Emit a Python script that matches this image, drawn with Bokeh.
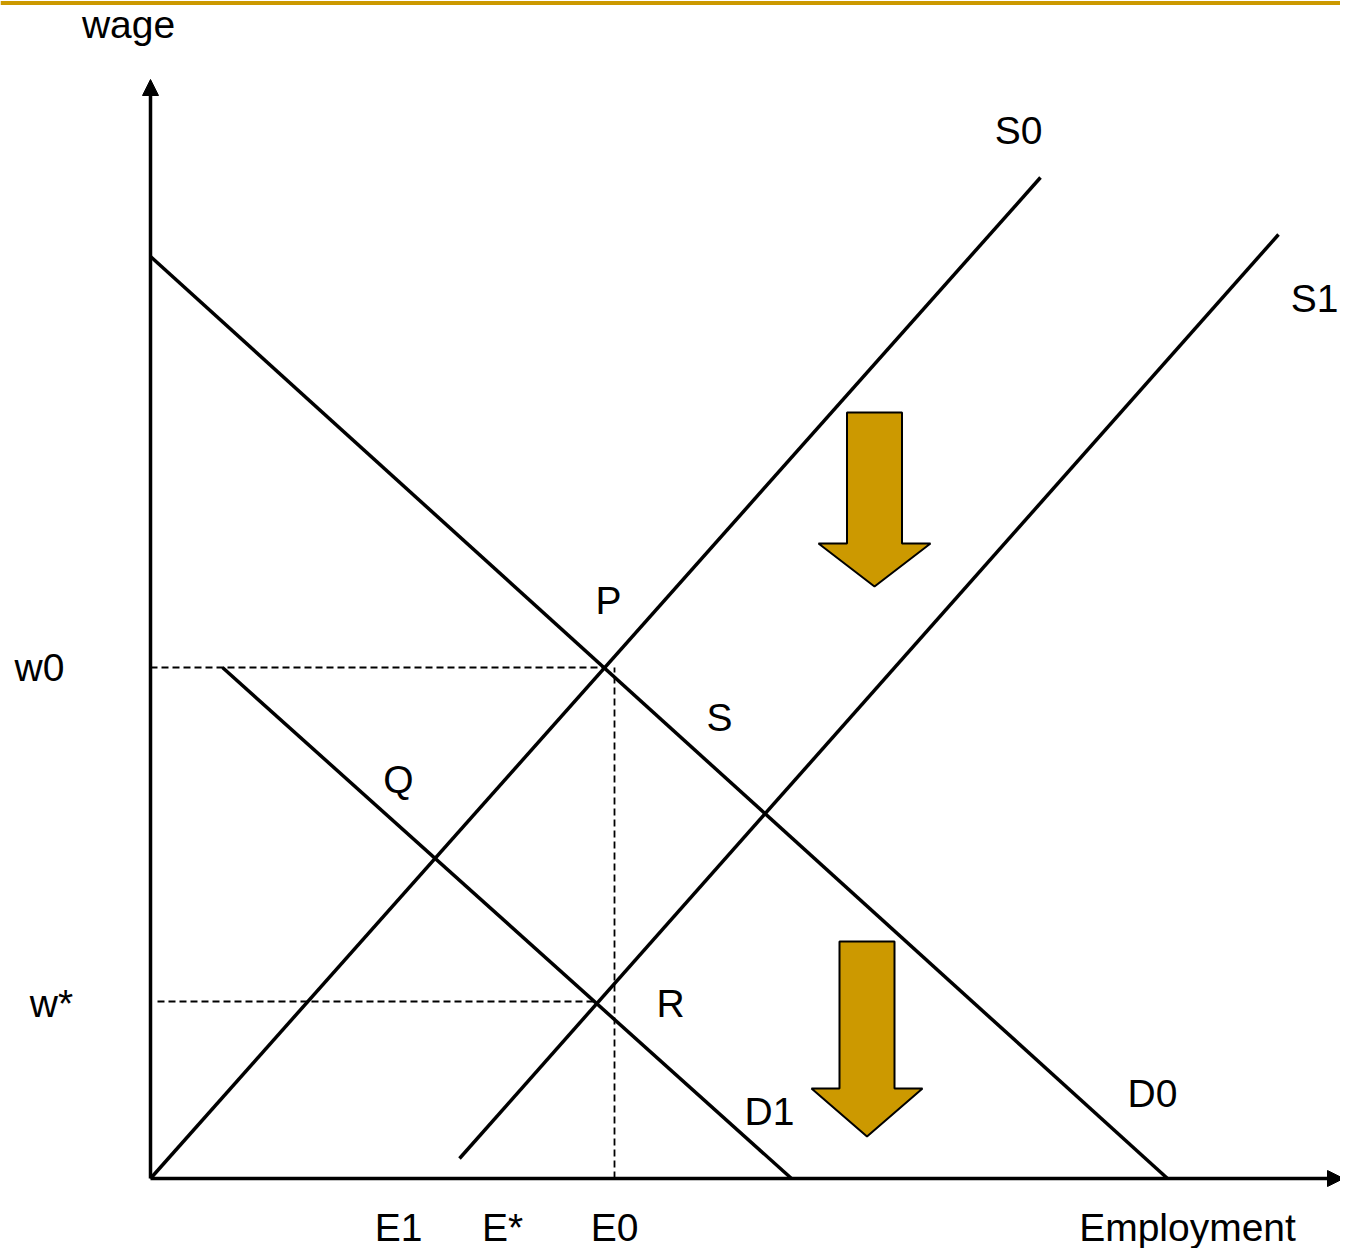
from bokeh.plotting import figure
from bokeh.models import Arrow, NormalHead, Range1d
from bokeh.core.properties import value
from bokeh.embed import file_html
from bokeh.resources import INLINE

# ---- data (units: employment / wage, origin at the axes corner) ----
d0_x = [0.0, 101.7]
d0_y = [92.2, 0.0]
d1_x = [7.2, 64.1]
d1_y = [51.1, 0.0]
s0_x = [0.0, 89.0]
s0_y = [0.0, 100.1]
s1_x = [30.9, 112.8]
s1_y = [2.0, 94.4]

w0 = 51.1
w_star = 17.7
p_x = 45.4
r_x = 44.6
e0_x = 46.4
wstar_start = 0.7

x_axis_end = 119.3
y_axis_end = 109.9

# shift arrows: centre x, top y, head-base y, tip y, shaft half width, head half width
shift_cx = [72.4, 71.65]
shift_top = [76.6, 23.7]
shift_base = [63.5, 9.0]
shift_tip = [59.2, 4.2]
shift_half = [2.75, 2.75]
shift_head = [5.6, 5.55]

label_text = ["wage", "S0", "S1", "P", "S", "Q", "R", "D1", "D0", "w0", "w*",
              "E1", "E*", "E0", "Employment"]
label_x = [-2.2, 86.8, 116.4, 45.8, 56.9, 24.8, 52.0, 61.9, 100.2, -11.1, -9.9,
           24.8, 35.2, 46.4, 103.7]
label_y = [115.4, 104.8, 88.0, 57.8, 46.1, 39.9, 17.5, 6.7, 8.5, 51.1, 17.5,
           -4.9, -4.9, -4.9, -4.9]
top_rule_y = 117.55

W, H = 1340, 1248
p = figure(width=W, height=H, output_backend="svg", toolbar_location=None,
           x_range=Range1d(-15.0, 119.0), y_range=Range1d(-7.0, 117.8),
           min_border=0)
p.axis.visible = False
p.grid.visible = False
p.outline_line_color = None
p.background_fill_color = "white"

gold = "#CC9900"

# top rule
p.line([-15.0, 119.0], [top_rule_y, top_rule_y], line_color=gold, line_width=4)

# dashed guides
p.line([0, p_x], [w0, w0], line_color="black", line_width=1.8, line_dash="7 4")
p.line([e0_x, e0_x], [0, w0], line_color="black", line_width=1.8, line_dash="7 4")
p.line([wstar_start, r_x], [w_star, w_star], line_color="black", line_width=1.8, line_dash="7 4")

# curves
for xs, ys in [(d0_x, d0_y), (d1_x, d1_y), (s0_x, s0_y), (s1_x, s1_y)]:
    p.line(xs, ys, line_color="black", line_width=3.5)

# axes with arrow heads
p.add_layout(Arrow(end=NormalHead(size=16, fill_color="black", line_color="black"),
                   x_start=0, y_start=0, x_end=0, y_end=y_axis_end,
                   line_width=3.5, line_color="black"))
p.add_layout(Arrow(end=NormalHead(size=16, fill_color="black", line_color="black"),
                   x_start=0, y_start=0, x_end=x_axis_end, y_end=0,
                   line_width=3.5, line_color="black"))

# shift arrows
xs_list, ys_list = [], []
for cx, top, base, tip, hs, hh in zip(shift_cx, shift_top, shift_base, shift_tip, shift_half, shift_head):
    xs_list.append([cx - hs, cx + hs, cx + hs, cx + hh, cx, cx - hh, cx - hs])
    ys_list.append([top, top, base, base, tip, base, base])
p.patches(xs_list, ys_list, fill_color=gold, line_color="black", line_width=2)

# labels
p.text(label_x, label_y, text=label_text, text_font=value("Liberation Sans"),
       text_font_size="39px", text_align="center", text_baseline="middle",
       text_color="black")

open("out.html", "w").write(file_html(p, INLINE))
